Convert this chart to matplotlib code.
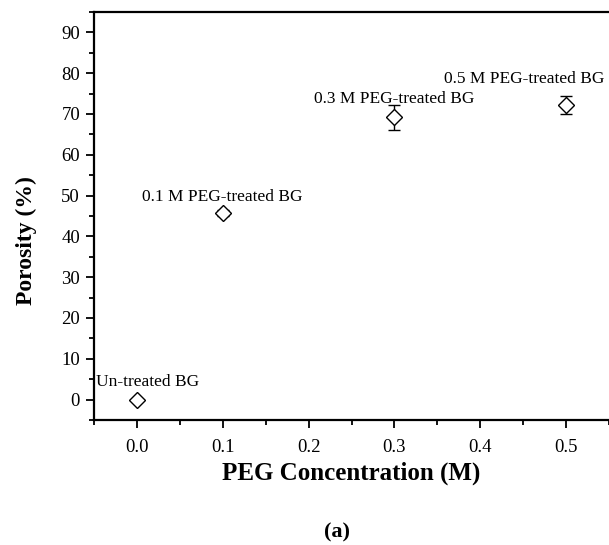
import numpy as np
import matplotlib
matplotlib.use("Agg")
from matplotlib import pyplot as plt
from matplotlib.ticker import MultipleLocator, FormatStrFormatter

# data
conc = [0.0, 0.1, 0.3, 0.5]
porosity = [0.0, 45.7, 69.2, 72.2]
err = [0.0, 0.7, 3.1, 2.3]
labels = ["Un-treated BG", "0.1 M PEG-treated BG", "0.3 M PEG-treated BG", "0.5 M PEG-treated BG"]
label_x = [-0.048, 0.1, 0.3, 0.451]
label_y = [3.4, 48.6, 72.8, 77.6]
label_ha = ["left", "center", "center", "center"]

plt.rcParams['font.family'] = ['Liberation Serif', 'DejaVu Serif']

fig = plt.figure(figsize=(6.09, 5.45), dpi=100)
ax = fig.add_axes([94/609, 1-420/545, 1-94/609, (420-12)/545])

ax.errorbar(conc, porosity, yerr=err, fmt='D', mfc='white', mec='black', ecolor='black',
            ms=8, mew=1.0, elinewidth=1.0, capsize=4, capthick=1.0)

for x, y, t, h in zip(label_x, label_y, labels, label_ha):
    ax.text(x, y, t, ha=h, va='baseline', fontsize=12.5)

ax.set_xlim(-0.05, 0.55)
ax.set_ylim(-5, 95)
ax.xaxis.set_major_locator(MultipleLocator(0.1))
ax.xaxis.set_minor_locator(MultipleLocator(0.05))
ax.yaxis.set_major_locator(MultipleLocator(10))
ax.yaxis.set_minor_locator(MultipleLocator(5))
ax.xaxis.set_major_formatter(FormatStrFormatter('%.1f'))

ax.spines['right'].set_visible(False)
for s in ['left', 'bottom', 'top']:
    ax.spines[s].set_linewidth(1.6)
ax.tick_params(which='major', direction='out', length=6, width=1.3, labelsize=13.5, pad=4)
ax.tick_params(which='minor', direction='out', length=3.5, width=1.3)
ax.tick_params(axis='x', pad=8)

ax.set_xlabel("PEG Concentration (M)", fontsize=18, fontweight='bold', labelpad=4)
ax.set_ylabel("Porosity (%)", fontsize=17, fontweight='bold')
ax.yaxis.set_label_coords(-0.111, 0.44)

fig.text(337/609, 1-532/545, "(a)", ha='center', va='center', fontsize=16, fontweight='bold')

fig.savefig("out.png", dpi=100)
